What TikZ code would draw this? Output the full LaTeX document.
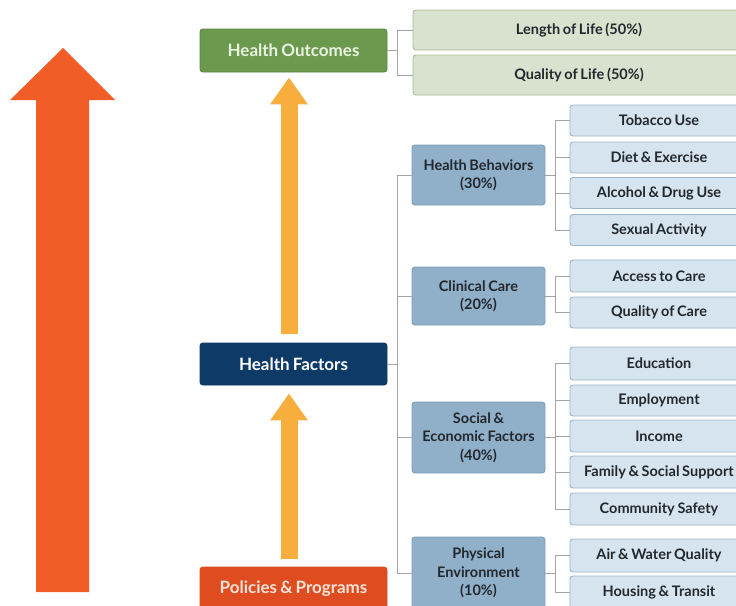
\documentclass[tikz,border=0pt]{standalone}
\usepackage{fontspec}
\setmainfont{Lato}[WordSpace=0.75]
\usetikzlibrary{arrows.meta}
\definecolor{bigarrow}{HTML}{F25C27}
\definecolor{yarrow}{HTML}{F7AE3C}
\definecolor{hoGreen}{HTML}{6B9A4F}
\definecolor{hoText}{HTML}{EAF2E2}
\definecolor{lifeFill}{HTML}{D9E2CF}
\definecolor{lifeDraw}{HTML}{A9BA98}
\definecolor{hfNavy}{HTML}{0E3A68}
\definecolor{ppRed}{HTML}{DE4C1F}
\definecolor{ppText}{HTML}{F8E4DA}
\definecolor{catFill}{HTML}{90AFC8}
\definecolor{catDraw}{HTML}{7D9DB8}
\definecolor{subFill}{HTML}{D6E4EF}
\definecolor{subDraw}{HTML}{9DB4C7}
\definecolor{darkText}{HTML}{22282D}
\definecolor{conn}{HTML}{A3A3A3}
\begin{document}
\begin{tikzpicture}[x=1pt,y=-1pt,
  box/.style={rectangle, rounded corners=3pt, inner sep=0pt, align=center,
    font=\bfseries\fontsize{14.5}{18.3}\selectfont, line width=0.9pt},
  mainbox/.style={box, minimum width=187pt, font=\bfseries\fontsize{17}{20}\selectfont},
  lifebox/.style={box, fill=lifeFill, draw=lifeDraw, text=darkText, minimum width=332pt, minimum height=40pt},
  catbox/.style={box, fill=catFill, draw=catDraw, text=darkText, minimum width=133pt},
  subbox/.style={box, fill=subFill, draw=subDraw, text=darkText, minimum width=178pt, minimum height=31pt},
  link/.style={draw=conn, line width=0.9pt},
  yarr/.style={draw=yarrow, line width=17pt, -{Triangle[width=36pt,length=27pt]}}
]
\useasboundingbox (0,0) rectangle (736,605);
\clip (0,0) rectangle (736,605);

% big orange arrow
\fill[bigarrow] (63,48) -- (115,100) -- (89,100) -- (89,592) -- (36,592) -- (36,100) -- (10,100) -- cycle;

% main boxes
\node[mainbox, fill=hoGreen, draw=hoGreen!85!black, text=hoText, minimum height=43pt] (ho) at (293.5,50.5) {Health Outcomes};
\node[mainbox, fill=hfNavy, draw=hfNavy, text=white, minimum height=42pt] (hf) at (293.5,364) {Health Factors};
\node[mainbox, fill=ppRed, draw=ppRed, text=ppText, minimum height=48pt, text depth=0pt] (pp) at (293.5,591) {\raisebox{8pt}{Policies \& Programs}};

% outcomes
\node[lifebox] (lol) at (579,30) {Length of Life (50\%)};
\node[lifebox] (qol) at (579,75) {Quality of Life (50\%)};

% categories
\node[catbox, minimum height=60pt] (hb) at (478.5,175) {Health Behaviors\\(30\%)};
\node[catbox, minimum height=58pt] (cc) at (478.5,296) {Clinical Care\\(20\%)};
\node[catbox, minimum height=71pt] (se) at (478.5,437.5) {Social \&\\Economic Factors\\(40\%)};
\node[catbox, minimum height=72pt] (pe) at (478.5,573) {Physical\\Environment\\(10\%)};

% sub factors
\node[subbox] (tob) at (659,120.5) {Tobacco Use};
\node[subbox] (diet) at (659,157.5) {Diet \& Exercise};
\node[subbox] (alc) at (659,193) {Alcohol \& Drug Use};
\node[subbox] (sex) at (659,230) {Sexual Activity};
\node[subbox, minimum height=32pt] (acc) at (659,276) {Access to Care};
\node[subbox] (qoc) at (659,312.5) {Quality of Care};
\node[subbox, minimum height=33pt] (edu) at (659,363.5) {Education};
\node[subbox] (emp) at (659,400.5) {Employment};
\node[subbox, minimum height=32pt] (inc) at (659,436) {Income};
\node[subbox, minimum height=32pt] (fam) at (659,472) {Family \& Social Support};
\node[subbox, minimum height=32pt] (com) at (659,509) {Community Safety};
\node[subbox, minimum height=33pt] (air) at (659,555.5) {Air \& Water Quality};
\node[subbox, minimum height=33pt] (hou) at (659,592.5) {Housing \& Transit};

% connectors
\foreach \c in {lol,qol} \draw[link] (ho.east) -- ++(10,0) |- (\c.west);
\foreach \c in {hb,cc,se,pe} \draw[link] (hf.east) -- ++(10,0) |- (\c.west);
\foreach \c in {tob,diet,alc,sex} \draw[link] (hb.east) -- ++(10,0) |- (\c.west);
\foreach \c in {acc,qoc} \draw[link] (cc.east) -- ++(10,0) |- (\c.west);
\foreach \c in {edu,emp,inc,fam,com} \draw[link] (se.east) -- ++(10,0) |- (\c.west);
\foreach \c in {air,hou} \draw[link] (pe.east) -- ++(10,0) |- (\c.west);

% yellow arrows
\draw[yarr] ([xshift=-4.5pt,yshift=9pt]hf.north) -- ([xshift=-4.5pt,yshift=-5pt]ho.south);
\draw[yarr] ([xshift=-4.5pt,yshift=8pt]pp.north) -- ([xshift=-4.5pt,yshift=-8pt]hf.south);
\end{tikzpicture}
\end{document}
